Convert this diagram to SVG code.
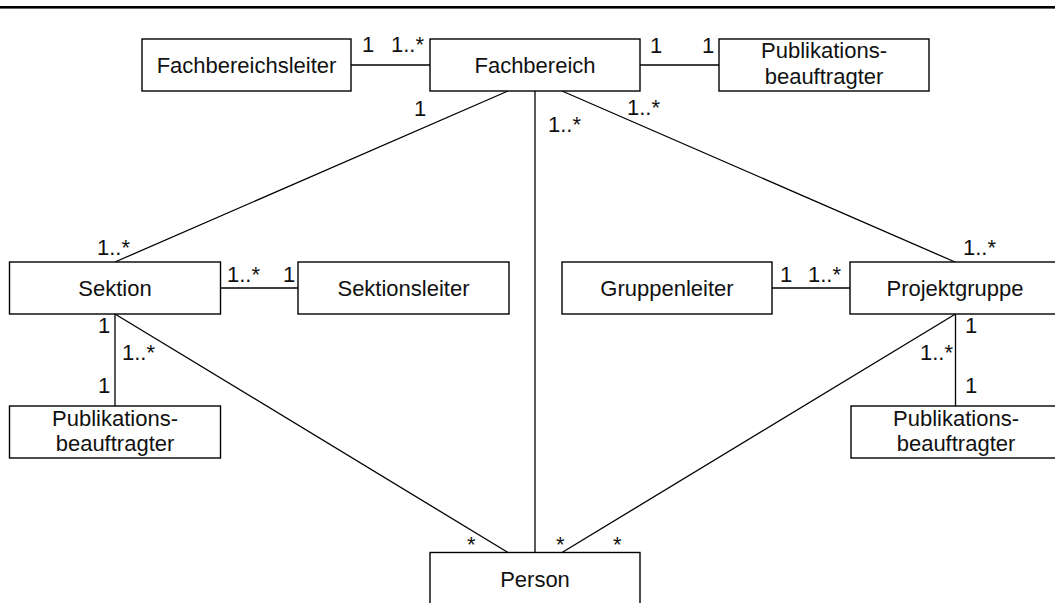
<svg xmlns="http://www.w3.org/2000/svg" width="1055" height="603" viewBox="0 0 1055 603">
  <style>
    .box { fill: #ffffff; stroke: #000000; stroke-width: 1.4; }
    .lbl { font-family: "Liberation Sans", Arial, sans-serif; font-size: 22px; fill: #111111; text-anchor: middle; }
    .mul { font-family: "Liberation Sans", Arial, sans-serif; font-size: 22px; fill: #111111; }
    .assoc { stroke: #000000; stroke-width: 1.3; fill: none; }
  </style>

  <rect x="0" y="6" width="1055" height="2.6" fill="#000000"/>

  <!-- associations -->
  <g id="connectors">
    <line class="assoc" x1="351" y1="65" x2="430" y2="65"/>
    <line class="assoc" x1="640" y1="65" x2="719" y2="65"/>
    <line class="assoc" x1="508" y1="91" x2="115" y2="262"/>
    <line class="assoc" x1="535" y1="91" x2="535" y2="552.5"/>
    <line class="assoc" x1="562" y1="91" x2="955" y2="262"/>
    <line class="assoc" x1="220.5" y1="288" x2="298" y2="288"/>
    <line class="assoc" x1="772" y1="288" x2="850" y2="288"/>
    <line class="assoc" x1="115" y1="314" x2="115" y2="406"/>
    <line class="assoc" x1="115" y1="314" x2="508" y2="552.5"/>
    <line class="assoc" x1="955.5" y1="314" x2="955.5" y2="406"/>
    <line class="assoc" x1="955.5" y1="314" x2="562" y2="552.5"/>

    <!-- multiplicities -->
    <text class="mul" x="362" y="52">1</text>
    <text class="mul" x="391" y="52">1..*</text>
    <text class="mul" x="650" y="53">1</text>
    <text class="mul" x="702" y="53">1</text>
    <text class="mul" x="414" y="116">1</text>
    <text class="mul" x="548" y="132">1..*</text>
    <text class="mul" x="627" y="115">1..*</text>
    <text class="mul" x="97" y="255">1..*</text>
    <text class="mul" x="227" y="282">1..*</text>
    <text class="mul" x="283" y="282">1</text>
    <text class="mul" x="780" y="282">1</text>
    <text class="mul" x="808" y="282">1..*</text>
    <text class="mul" x="963" y="255">1..*</text>
    <text class="mul" x="98" y="333">1</text>
    <text class="mul" x="122" y="360">1..*</text>
    <text class="mul" x="98" y="393">1</text>
    <text class="mul" x="965" y="333">1</text>
    <text class="mul" x="920" y="360">1..*</text>
    <text class="mul" x="965" y="393">1</text>
    <text class="mul" x="467" y="552">*</text>
    <text class="mul" x="556" y="552">*</text>
    <text class="mul" x="613" y="552">*</text>
  </g>

  <g id="fachbereichsleiter">
    <rect class="box" x="142" y="39" width="209" height="52"/>
    <text class="lbl" x="246.5" y="72.5">Fachbereichsleiter</text>
  </g>
  <g id="fachbereich">
    <rect class="box" x="430" y="39" width="210" height="52"/>
    <text class="lbl" x="535" y="72.5">Fachbereich</text>
  </g>
  <g id="publikationsbeauftragter-fb">
    <rect class="box" x="719" y="39" width="210" height="52"/>
    <text class="lbl" x="824" y="58">Publikations-</text>
    <text class="lbl" x="824" y="83.5">beauftragter</text>
  </g>
  <g id="sektion">
    <rect class="box" x="9.5" y="262" width="211" height="52"/>
    <text class="lbl" x="115" y="295.5">Sektion</text>
  </g>
  <g id="sektionsleiter">
    <rect class="box" x="298" y="262" width="211" height="52"/>
    <text class="lbl" x="403.5" y="295.5">Sektionsleiter</text>
  </g>
  <g id="gruppenleiter">
    <rect class="box" x="562" y="262" width="210" height="52"/>
    <text class="lbl" x="667" y="295.5">Gruppenleiter</text>
  </g>
  <g id="projektgruppe">
    <rect class="box" x="850" y="262" width="210" height="52"/>
    <text class="lbl" x="955" y="295.5">Projektgruppe</text>
  </g>
  <g id="publikationsbeauftragter-sektion">
    <rect class="box" x="9.5" y="406" width="211" height="52"/>
    <text class="lbl" x="115" y="425.5">Publikations-</text>
    <text class="lbl" x="115" y="451">beauftragter</text>
  </g>
  <g id="publikationsbeauftragter-projektgruppe">
    <rect class="box" x="851" y="406" width="210" height="52"/>
    <text class="lbl" x="956" y="425.5">Publikations-</text>
    <text class="lbl" x="956" y="451">beauftragter</text>
  </g>
  <g id="person">
    <rect class="box" x="430" y="552.5" width="210" height="70"/>
    <text class="lbl" x="535" y="587">Person</text>
  </g>
</svg>
